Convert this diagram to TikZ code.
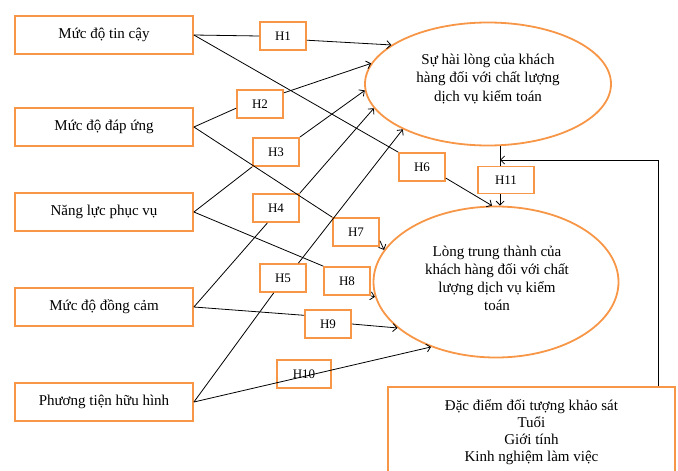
\documentclass[tikz,border=0pt]{standalone}
\usepackage{fontspec}
\setmainfont{Liberation Serif}
\usetikzlibrary{shapes.geometric,arrows.meta}
\definecolor{boxorange}{RGB}{247,150,70}
\begin{document}
\begin{tikzpicture}[x=1pt,y=-1pt,>={Straight Barb[length=4pt,width=8pt]},font=\fontsize{15}{18.5}\selectfont,
  factor/.style={draw=boxorange,line width=1.8pt,minimum width=178pt,minimum height=38pt,inner sep=0pt},
  hyp/.style={draw=boxorange,line width=1.8pt,minimum width=46pt,minimum height=28pt,inner sep=0pt,font=\fontsize{13}{15}\selectfont},
  outcome/.style={draw=boxorange,line width=1.8pt,ellipse,inner sep=0pt},
  link/.style={line width=0.8pt}]
\useasboundingbox (0,0) rectangle (678,471);
% factors
\node[factor] (tincay) at (104,35) {Mức độ tin cậy};
\node[factor] (dapung) at (104,127) {Mức độ đáp ứng};
\node[factor] (nangluc) at (104,212) {Năng lực phục vụ};
\node[factor] (dongcam) at (104,307) {Mức độ đồng cảm};
\node[factor] (huuhinh) at (104,402) {Phương tiện hữu hình};
% outcomes
\node[outcome,minimum width=246pt,minimum height=123pt] (hailong) at (488,84) {};
\node[align=center] (hailongtxt) at (488,79) {Sự hài lòng của khách\\hàng đối với chất lượng\\dịch vụ kiểm toán};
\node[outcome,minimum width=245pt,minimum height=151pt] (trungthanh) at (496,282) {};
\node[align=center,font=\fontsize{15}{18}\selectfont] (trungthanhtxt) at (497,278) {Lòng trung thành của\\khách hàng đối với chất\\lượng dịch vụ kiểm\\toán};
\node[factor,minimum width=287pt,minimum height=90pt,align=center,font=\fontsize{15}{17}\selectfont] (dacdiem) at (531.5,432) {Đặc điểm đối tượng khảo sát\\Tuổi\\Giới tính\\Kinh nghiệm làm việc};
% hypotheses
\node[hyp] (h1) at (283,36) {H1};
\node[hyp] (h2) at (260,104) {H2};
\node[hyp] (h3) at (276,152) {H3};
\node[hyp] (h4) at (276,208) {H4};
\node[hyp] (h5) at (283,278) {H5};
\node[hyp] (h6) at (422,167) {H6};
\node[hyp] (h7) at (356,232) {H7};
\node[hyp] (h8) at (347,281) {H8};
\node[hyp] (h9) at (328,324) {H9};
\node[hyp,minimum width=54pt] (h10) at (304,374) {H10};
\node[hyp,minimum width=56pt,minimum height=27pt] (h11) at (506,180) {H11};
% to satisfaction
\draw[link] (tincay.east) -- (h1.west);
\draw[link,->] (h1.-10) -- (hailong.158);
\draw[link] (dapung.east) -- (h2.190);
\draw[link,->] (h2.25) -- (hailong.170);
\draw[link] (nangluc.east) -- (h3.south west);
\draw[link,->] (h3.north east) -- (hailong.183);
\draw[link] (dongcam.east) -- (h4.-120);
\draw[link,->] (h4.north east) -- (hailong.192);
\draw[link] (huuhinh.east) -- (h5.-122);
\draw[link,->] (h5.44) -- (hailong.208);
% to loyalty
\draw[link] (tincay.east) -- (h6.north west);
\draw[link,->] (h6.-25) -- (trungthanh.93);
\draw[link] (dapung.east) -- (h7.north west);
\draw[link,->] (h7.-20) -- (trungthanh.164);
\draw[link] (nangluc.east) -- (h8.north west);
\draw[link,->] (h8.south east) -- (trungthanh.187);
\draw[link] (dongcam.east) -- (h9.160);
\draw[link,->] (h9.east) -- (trungthanh.205);
\draw[link,->] (huuhinh.east) -- (trungthanh.225);
% satisfaction to loyalty, control
\draw[link] (hailong.-79) -- (hailong.-79 |- h11.north);
\draw[link,->] (hailong.-79 |- h11.south) -- (hailong.-79 |- trungthanh.north);
\coordinate (fb) at (658,160);
\draw[link,->] (fb |- dacdiem.north) -- (fb) -- (hailong.-79 |- fb);
\end{tikzpicture}
\end{document}
